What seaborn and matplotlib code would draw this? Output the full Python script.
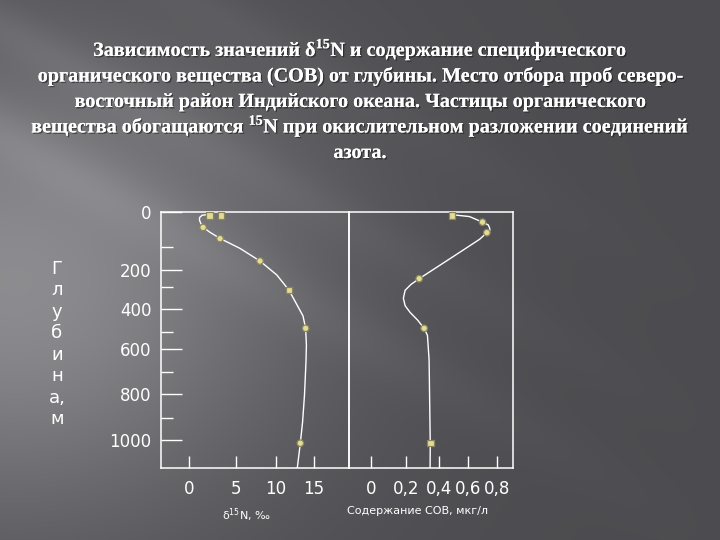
import numpy as np
import pandas as pd
import matplotlib
matplotlib.use("Agg")
import matplotlib.pyplot as plt
import matplotlib.patheffects as pe
import seaborn as sns

# точки: дельта 15N (‰) и глубина (м)
n15_depth = [10, 10, 44, 76, 161, 314, 484, 1014]
n15_value = [2.2, 3.4, 1.5, 3.3, 8.0, 11.7, 13.9, 13.2]
n15_shape = ["sq", "sq", "ci", "ci", "ci", "sq", "ci", "ci"]

# точки: содержание СОВ (мкг/л) и глубина (м)
cob_depth = [10, 29, 59, 251, 484, 1014]
cob_value = [0.49, 0.70, 0.73, 0.28, 0.31, 0.347]
cob_shape = ["sq", "ci", "ci", "ci", "ci", "sq"]

# сглаженные кривые
n15_curve_depth = [8, 9, 16, 24, 34, 44, 58, 76, 106, 161, 229, 314, 390, 430, 484, 576, 652, 804, 917, 1014, 1122]
n15_curve_value = [1.9, 1.4, 1.12, 1.12, 1.28, 1.52, 2.23, 3.33, 5.5, 8.0, 10.1, 11.7, 12.9, 13.55, 13.9, 14.0, 13.95, 13.75, 13.5, 13.2, 12.8]

cob_curve_depth = [10, 9, 13, 29, 37, 47, 54, 59, 78, 149, 251, 285, 315, 351, 385, 415, 448, 484, 520, 648, 909, 1014, 1122]
cob_curve_value = [0.49, 0.52, 0.61, 0.70, 0.74, 0.75, 0.75, 0.73, 0.68, 0.48, 0.28, 0.23, 0.195, 0.185, 0.195, 0.225, 0.27, 0.31, 0.33, 0.34, 0.345, 0.347, 0.346]

depth_major = [0, 200, 400, 600, 800, 1000]
depth_minor = [100, 300, 500, 700, 900]
n15_ticks = [0, 5, 10, 15]
cob_ticks = [0, 0.2, 0.4, 0.6, 0.8]
cob_ticklabels = ["0", "0,2", "0,4", "0,6", "0,8"]

title_lines = [
    "Зависимость значений δ$^{\\mathrm{15}}$N и содержание специфического",
    "органического вещества (СОВ) от глубины. Место отбора проб северо-",
    "восточный район Индийского океана. Частицы органического",
    "вещества обогащаются $^{\\mathrm{15}}$N при окислительном разложении соединений",
    "азота.",
]
ylabel_letters = ["Г", "л", "у", "б", "и", "н", "а,", "м"]

# нарисованные от руки шкалы неравномерны: кусочно-линейные оси
depth_knots = [0, 100, 200, 300, 400, 500, 600, 700, 800, 900, 1000, 1122]
depth_px = [212, 247, 270, 287, 309, 332, 349, 372, 394, 418, 440, 468]
n15_knots = [-3, 0, 5, 10, 15, 19.6]
n15_px = [161, 189, 236, 276, 314, 349]
cob_knots = [-0.126, 0, 0.2, 0.4, 0.6, 0.8, 0.91]
cob_px = [349, 371, 406, 439, 468, 497, 513]


def pw(x, xp, fp):
    x = np.asarray(x, dtype=float)
    y = np.interp(x, xp, fp)
    y = np.where(x < xp[0], fp[0] + (x - xp[0]) * (fp[1] - fp[0]) / (xp[1] - xp[0]), y)
    y = np.where(x > xp[-1], fp[-1] + (x - xp[-1]) * (fp[-1] - fp[-2]) / (xp[-1] - xp[-2]), y)
    return y


def make_scale(knots, px):
    return (lambda v: pw(v, knots, px), lambda p: pw(p, px, knots))


sns.set_style("ticks")
plt.rcParams["font.family"] = ["DejaVu Sans"]
plt.rcParams["mathtext.fontset"] = "custom"
plt.rcParams["mathtext.rm"] = "Liberation Serif:bold"
plt.rcParams["mathtext.sf"] = "DejaVu Sans"

fig = plt.figure(figsize=(7.2, 5.4), dpi=100)

# фон слайда
W, H = 720, 540
u = np.linspace(0, 1, W)[None, :]
v = np.linspace(0, 1, H)[:, None]
b = 0.30 + 0.25 * np.exp(-((u - 0.02) / 0.4) ** 2) * np.exp(-((v - 0.52) / 0.45) ** 2)
diag = v - 0.75 * u
b += 0.05 * np.exp(-((diag - 0.25) / 0.06) ** 2) * (1 - u)
b += 0.04 * np.exp(-((diag - 0.05) / 0.05) ** 2) * (1 - u)
b += 0.03 * np.exp(-((diag + 0.2) / 0.05) ** 2) * (1 - u)
b = np.clip(b, 0, 1)
bg = np.dstack([b, b, np.clip(b + 0.015, 0, 1)])
bg_ax = fig.add_axes([0, 0, 1, 1], zorder=-10)
bg_ax.imshow(bg, aspect="auto", extent=[0, 1, 0, 1])
bg_ax.axis("off")
fig.patch.set_edgecolor("black")
fig.patch.set_linewidth(3)

ax1 = fig.add_axes([161 / 720, 1 - 468 / 540, 188 / 720, 256 / 540])
ax2 = fig.add_axes([349 / 720, 1 - 468 / 540, 164 / 720, 256 / 540])

n15_pts = pd.DataFrame({"depth": n15_depth, "value": n15_value, "shape": n15_shape})
cob_pts = pd.DataFrame({"depth": cob_depth, "value": cob_value, "shape": cob_shape})
n15_line = pd.DataFrame({"depth": n15_curve_depth, "value": n15_curve_value})
cob_line = pd.DataFrame({"depth": cob_curve_depth, "value": cob_curve_value})

for ax, line, pts in [(ax1, n15_line, n15_pts), (ax2, cob_line, cob_pts)]:
    ax.set_facecolor("none")
    sns.lineplot(data=line, x="value", y="depth", sort=False, estimator=None,
                 color="white", lw=1.0, ax=ax)
    sns.scatterplot(data=pts, x="value", y="depth", style="shape",
                    markers={"sq": "s", "ci": "o"}, s=22, color="#e3dc95",
                    edgecolor="#8a8560", linewidth=0.9, legend=False, ax=ax, zorder=3)
    ax.set_yscale("function", functions=make_scale(depth_knots, depth_px))
    ax.set_ylim(1122, 0)
    for s in ax.spines.values():
        s.set_visible(True)
        s.set_color("white")
        s.set_linewidth(1.1)
    ax.set_ylabel("")

ax1.set_xscale("function", functions=make_scale(n15_knots, n15_px))
ax1.set_xlim(-3, 19.6)
ax2.set_xscale("function", functions=make_scale(cob_knots, cob_px))
ax2.set_xlim(-0.126, 0.91)

ax1.set_yticks(depth_major)
ax1.set_yticklabels([str(d) for d in depth_major])
ax1.set_yticks(depth_minor, minor=True)
ax1.tick_params(axis="y", which="major", direction="in", length=15, width=1,
                color="white", labelcolor="white", labelsize=12, pad=7)
ax1.tick_params(axis="y", which="minor", direction="in", length=8.5, width=1, color="white")
ax1.set_xticks(n15_ticks)
ax1.set_xticklabels([str(t) for t in n15_ticks])
ax1.xaxis.set_minor_locator(matplotlib.ticker.NullLocator())

ax2.tick_params(axis="y", which="both", left=False, labelleft=False)
ax2.yaxis.set_minor_locator(matplotlib.ticker.NullLocator())
ax2.set_xticks(cob_ticks)
ax2.set_xticklabels(cob_ticklabels)
ax2.xaxis.set_minor_locator(matplotlib.ticker.NullLocator())

for ax in (ax1, ax2):
    ax.tick_params(axis="x", which="major", direction="in", length=8.5, width=1,
                   color="white", labelcolor="white", labelsize=12, pad=9)

ax1.set_xlabel("δ$^{\\mathsf{15}}$N, ‰", color="white", fontsize=8)
ax1.xaxis.set_label_coords(0.456, -0.15)
ax2.set_xlabel("Содержание СОВ, мкг/л", color="white", fontsize=8)
ax2.xaxis.set_label_coords(0.42, -0.15)

shadow = [pe.withSimplePatchShadow(offset=(1, -1), shadow_rgbFace="black", alpha=0.45), pe.Normal()]
for i, line in enumerate(title_lines):
    fig.text(0.5, 1 - (56 + 25.5 * i) / 540, line, ha="center", va="baseline",
             color="white", fontsize=14.5, fontweight="bold",
             family=["Liberation Serif", "DejaVu Serif"], path_effects=shadow)

fig.text(57 / 720, 1 - 344 / 540, "\n".join(ylabel_letters), ha="center", va="center",
         color="white", fontsize=13, linespacing=1.25, multialignment="center")

fig.savefig("out.png", dpi=100)
